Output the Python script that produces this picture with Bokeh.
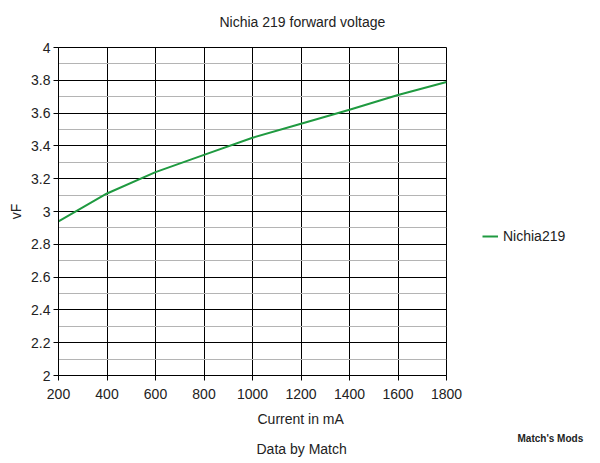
from bokeh.plotting import figure
from bokeh.layouts import row
from bokeh.models import Range1d, Legend, LegendItem, FixedTicker, Title, CustomJSTickFormatter
from bokeh.embed import file_html
from bokeh.resources import INLINE

current_ma = [200, 400, 600, 800, 1000, 1200, 1400, 1600, 1800]
vf_nichia219 = [2.94, 3.11, 3.24, 3.345, 3.45, 3.535, 3.62, 3.71, 3.79]
x_ticks = [200, 400, 600, 800, 1000, 1200, 1400, 1600, 1800]
y_ticks = [2, 2.2, 2.4, 2.6, 2.8, 3, 3.2, 3.4, 3.6, 3.8, 4]
y_minor = [2.1, 2.3, 2.5, 2.7, 2.9, 3.1, 3.3, 3.5, 3.7, 3.9]
series_name = "Nichia219"

FONT = "Liberation Sans"
TXT = "#222222"
GREEN = "#1f9a40"
W, H = 592, 462
WP = 466
L, T = 58, 47
R, B = WP - 446, H - 376

p = figure(width=WP, height=H, output_backend="svg", toolbar_location=None,
           x_range=Range1d(200, 1800), y_range=Range1d(2, 4),
           min_border_left=L, min_border_right=R, min_border_top=T, min_border_bottom=B)
p.background_fill_color = "white"
p.border_fill_color = "white"
p.outline_line_color = "black"
p.outline_line_width = 1

p.xaxis.ticker = FixedTicker(ticks=x_ticks)
p.yaxis.ticker = FixedTicker(ticks=y_ticks, minor_ticks=y_minor)
p.yaxis.formatter = CustomJSTickFormatter(code="return String(Math.round(tick*10)/10);")
for ax in (p.xaxis[0], p.yaxis[0]):
    ax.axis_line_color = "black"
    ax.major_tick_line_color = "black"
    ax.major_tick_out = 5
    ax.major_tick_in = 0
    ax.minor_tick_line_color = None
    ax.major_label_text_font = FONT
    ax.major_label_text_font_size = "14px"
    ax.major_label_text_color = TXT
p.xaxis.major_label_standoff = 8
p.yaxis.major_label_standoff = 3

p.xgrid.grid_line_color = "black"
p.ygrid.grid_line_color = "black"
p.ygrid.minor_grid_line_color = "#b4b4b4"

r = p.line(current_ma, vf_nichia219, line_color=GREEN, line_width=2)

def title(fig, text, side, size="14px", standoff=10, offset=0, align="left",
          bold=False, color=TXT):
    t = Title(text=text, align=align, offset=offset, standoff=standoff,
              text_font=FONT, text_font_size=size, text_color=color,
              text_font_style="bold" if bold else "normal")
    fig.add_layout(t, side)

# white spacer keeps the title up at the top edge
title(p, ".", "above", size="10px", standoff=8, color="white")
title(p, "Nichia 219 forward voltage", "above", size="14px", standoff=0, offset=161)
title(p, "vF", "left", size="14px", standoff=9, align="center")
title(p, "Current in mA", "below", size="14px", standoff=14, offset=199)
title(p, "Data by Match", "below", size="14px", standoff=11, offset=198)

# side figure holding the legend and the credit text
p2 = figure(width=W - WP, height=H, output_backend="svg", toolbar_location=None,
            x_range=Range1d(0, 1), y_range=Range1d(0, 1),
            x_axis_type=None, y_axis_type=None,
            min_border=0, min_border_left=0, min_border_right=0,
            min_border_top=T, min_border_bottom=B)
p2.outline_line_color = None
p2.grid.visible = False
p2.background_fill_color = "white"
p2.border_fill_color = "white"
# same series, outside this figure's visible range: used only for the legend swatch
r2 = p2.line(current_ma, vf_nichia219, line_color=GREEN, line_width=2)

legend = Legend(items=[LegendItem(label=series_name, renderers=[r2])],
                location=(16, 129), border_line_color=None, background_fill_alpha=0,
                padding=0, margin=0, glyph_width=16, glyph_height=20, label_standoff=5,
                label_text_font=FONT, label_text_font_size="14px", label_text_color=TXT)
p2.add_layout(legend, "center")

title(p2, ".", "below", size="14px", standoff=36, color="white")
title(p2, "Match's Mods", "below", size="10px", standoff=15, offset=51, bold=True)

open("out.html", "w").write(file_html(row(p, p2), INLINE))
